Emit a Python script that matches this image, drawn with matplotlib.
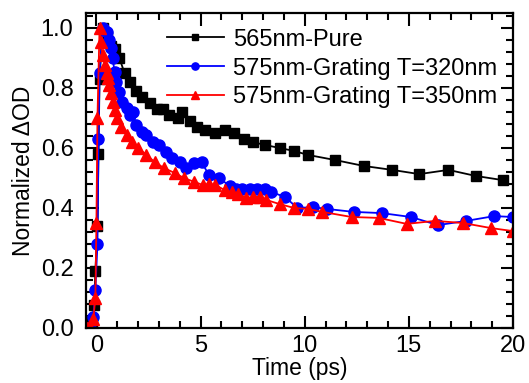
import matplotlib
matplotlib.use("Agg")
import matplotlib.pyplot as plt
from matplotlib.ticker import MultipleLocator

plt.rcParams['font.family'] = ['Liberation Sans', 'DejaVu Sans']

labels = ["565nm-Pure", "575nm-Grating T=320nm", "575nm-Grating T=350nm"]

t_pure = [-0.45, -0.3, -0.2, -0.1, -0.05, 0.05, 0.1, 0.15, 0.3, 0.5, 0.7, 0.87, 1.1, 1.35,
          1.6, 1.9, 2.2, 2.55, 2.9, 3.2, 3.5, 3.9, 4.1, 4.5, 4.85, 5.2, 5.7, 6.15, 6.6,
          7.1, 7.5, 8.1, 8.8, 9.5, 10.15, 11.45, 12.85, 14.2, 15.5, 16.9, 18.2, 19.5]
v_pure = [0.0, 0.0, 0.02, 0.077, 0.19, 0.34, 0.58, 0.83, 1.0, 0.97, 0.94, 0.93, 0.90, 0.85,
          0.82, 0.79, 0.77, 0.75, 0.73, 0.73, 0.71, 0.70, 0.72, 0.69, 0.67, 0.66, 0.65, 0.66, 0.65,
          0.63, 0.62, 0.61, 0.60, 0.59, 0.577, 0.56, 0.54, 0.527, 0.513, 0.527, 0.507, 0.493]

t_320 = [-0.45, -0.3, -0.15, -0.05, 0.05, 0.1, 0.15, 0.3, 0.5, 0.6, 0.7, 0.78, 0.87, 0.96,
         1.1, 1.25, 1.45, 1.6, 1.75, 1.9, 2.2, 2.4, 2.7, 3.0, 3.35, 3.65, 4.0, 4.3, 4.7,
         5.05, 5.4, 5.9, 6.4, 6.7, 7.0, 7.35, 7.7, 8.1, 8.4, 9.05, 9.65, 10.4, 11.05,
         12.35, 13.7, 15.1, 16.4, 17.75, 19.1, 20.0]
v_320 = [0.0, 0.0, 0.037, 0.127, 0.28, 0.63, 0.85, 1.0, 0.987, 0.96, 0.933, 0.90, 0.853, 0.82,
         0.787, 0.753, 0.733, 0.71, 0.72, 0.677, 0.653, 0.643, 0.62, 0.61, 0.587, 0.567, 0.553, 0.533, 0.55,
         0.553, 0.51, 0.50, 0.473, 0.463, 0.463, 0.463, 0.463, 0.463, 0.453, 0.437, 0.40, 0.403, 0.397,
         0.387, 0.383, 0.37, 0.343, 0.357, 0.373, 0.37]

t_350 = [-0.45, -0.3, -0.15, -0.05, 0.0, 0.05, 0.15, 0.2, 0.3, 0.4, 0.5, 0.55, 0.62, 0.7,
         0.8, 0.87, 1.0, 1.2, 1.45, 1.7, 2.0, 2.4, 2.8, 3.25, 3.75, 4.2, 4.7, 5.1, 5.4,
         5.7, 6.15, 6.5, 6.8, 7.2, 7.5, 7.85, 8.15, 8.8, 9.5, 10.15, 10.85, 12.25, 13.55,
         14.9, 16.25, 17.6, 18.95, 20.0]
v_350 = [0.0, 0.0, 0.03, 0.10, 0.35, 0.70, 1.0, 0.953, 0.91, 0.877, 0.85, 0.833, 0.81, 0.783,
         0.753, 0.727, 0.70, 0.67, 0.643, 0.62, 0.60, 0.577, 0.553, 0.533, 0.517, 0.50, 0.487, 0.477, 0.48,
         0.477, 0.46, 0.453, 0.447, 0.433, 0.437, 0.437, 0.427, 0.413, 0.40, 0.397, 0.387, 0.37, 0.367,
         0.347, 0.357, 0.35, 0.333, 0.323]

fig = plt.figure(figsize=(5.29, 3.83), dpi=100)
ax = fig.add_axes([86/529, 1-328/383, (513-86)/529, (328-13)/383])

ax.plot(t_pure, v_pure, color='black', marker='s', ms=7, lw=1.3, label=labels[0])
ax.plot(t_320, v_320, color='#0000ff', marker='o', ms=8, lw=1.3, label=labels[1])
ax.plot(t_350, v_350, color='#ff0000', marker='^', ms=8, lw=1.3, label=labels[2])

ax.set_xlim(-0.5, 20)
ax.set_ylim(0, 1.05)
ax.xaxis.set_major_locator(MultipleLocator(5))
ax.xaxis.set_minor_locator(MultipleLocator(1))
ax.yaxis.set_major_locator(MultipleLocator(0.2))
ax.yaxis.set_minor_locator(MultipleLocator(0.04))
ax.yaxis.set_major_formatter(matplotlib.ticker.FormatStrFormatter('%.1f'))
ax.tick_params(which='both', direction='in', top=True, right=True, width=1.5, labelsize=17)
ax.tick_params(which='major', length=9)
ax.tick_params(axis='y', which='major', pad=9)
ax.tick_params(axis='x', which='major', pad=5)
ax.tick_params(which='minor', length=5)
for s in ax.spines.values():
    s.set_linewidth(1.6)

ax.set_xlabel("Time (ps)", fontsize=16.5, labelpad=0)
ax.set_ylabel("Normalized \u0394OD", fontsize=16.5, labelpad=4)

ax.legend(loc='upper left', bbox_to_anchor=(0.19, 0.95), frameon=False, fontsize=17,
          borderpad=0, handlelength=2.4, handletextpad=0.38, labelspacing=0.29,
          markerscale=0.65, borderaxespad=0)

fig.savefig("out.png", dpi=100)
